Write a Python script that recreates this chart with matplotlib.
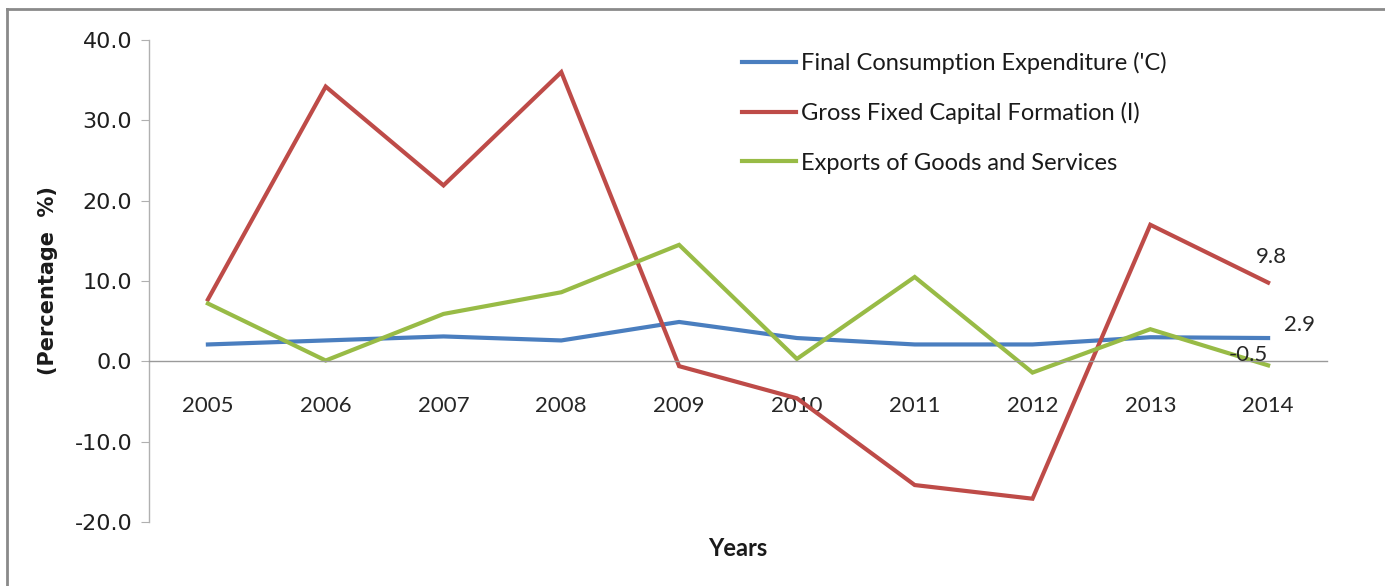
import matplotlib
matplotlib.use("Agg")
import matplotlib.pyplot as plt
from matplotlib.lines import Line2D

years = ["2005", "2006", "2007", "2008", "2009", "2010", "2011", "2012", "2013", "2014"]
consumption = [2.1, 2.6, 3.1, 2.6, 4.9, 2.9, 2.1, 2.1, 3.0, 2.9]
capital = [7.7, 34.2, 21.9, 36.0, -0.6, -4.6, -15.4, -17.1, 17.0, 9.8]
exports = [7.2, 0.1, 5.9, 8.6, 14.5, 0.3, 10.5, -1.4, 4.0, -0.5]
series_names = ["Final Consumption Expenditure ('C)",
                "Gross Fixed Capital Formation (I)",
                "Exports of Goods and Services"]
colors = ["#4a7ebf", "#be4b48", "#98bb46"]

plt.rcParams['font.family'] = ['Lato', 'DejaVu Sans']

fig = plt.figure(figsize=(13.85, 5.86), dpi=100)
W, H = 1385, 586
ax = fig.add_axes([149 / W, 1 - 522 / H, (1327 - 149) / W, (522 - 40) / H])

for s in ["top", "right"]:
    ax.spines[s].set_visible(False)
ax.spines["bottom"].set_position(("data", 0))
ax.spines["bottom"].set_color("#9a9a9a")
ax.spines["left"].set_color("#b0b0b0")
ax.spines["bottom"].set_linewidth(1.0)
ax.spines["left"].set_linewidth(1.0)

x = list(range(len(years)))
for vals, name, c in zip([consumption, capital, exports], series_names, colors):
    ax.plot(x, vals, color=c, lw=3.0, label=name, solid_joinstyle='miter')

ax.set_xlim(-0.5, 9.5)
ax.set_ylim(-20, 40)
yt = [-20, -10, 0, 10, 20, 30, 40]
ax.set_yticks(yt)
ax.set_yticklabels([f"{v:.1f}" for v in yt], family=['DejaVu Sans'])
ax.set_xticks(x)
ax.set_xticklabels(years)
ax.tick_params(axis="y", direction="out", length=6, color="#b0b0b0", pad=6,
               labelsize=16, labelcolor="#1f1f1f")
ax.tick_params(axis="x", length=0, pad=25, labelsize=16, labelcolor="#262626")

ax.set_ylabel("(Percentage  %)", fontsize=15, fontweight="bold", color="#1a1a1a",
              family=['DejaVu Sans'], labelpad=12)
fig.text(738 / W, 1 - 548 / H, "Years", fontsize=17, fontweight="bold",
         color="#1a1a1a", ha="center", va="center")

# data labels for last points
ax.annotate(f"{capital[-1]:.1f}", (9, capital[-1]), xytext=(-12, 26),
            textcoords="offset pixels", fontsize=16, color="#262626", ha="left", va="center")
ax.annotate(f"{consumption[-1]:.1f}", (9, consumption[-1]), xytext=(16, 13),
            textcoords="offset pixels", fontsize=16, color="#262626", ha="left", va="center")
ax.annotate(f"{exports[-1]:.1f}", (9, exports[-1]), xytext=(0, 10),
            textcoords="offset pixels", fontsize=16, color="#262626", ha="right", va="center")

leg = ax.legend(loc="upper left", bbox_to_anchor=((728 - 149) / (1327 - 149), 1.005),
                frameon=False, fontsize=17, handlelength=2.3, handletextpad=0.2,
                labelspacing=1.2, borderaxespad=0.2)
for t in leg.get_texts():
    t.set_color("#1a1a1a")

# outer border (top and left)
fig.add_artist(Line2D([7 / W, 1.0], [1 - 9 / H, 1 - 9 / H], color="#8a8a8a", lw=2,
                      transform=fig.transFigure))
fig.add_artist(Line2D([7 / W, 7 / W], [0, 1 - 9 / H], color="#8a8a8a", lw=2,
                      transform=fig.transFigure))

fig.savefig("out.png", dpi=100, facecolor="white")
